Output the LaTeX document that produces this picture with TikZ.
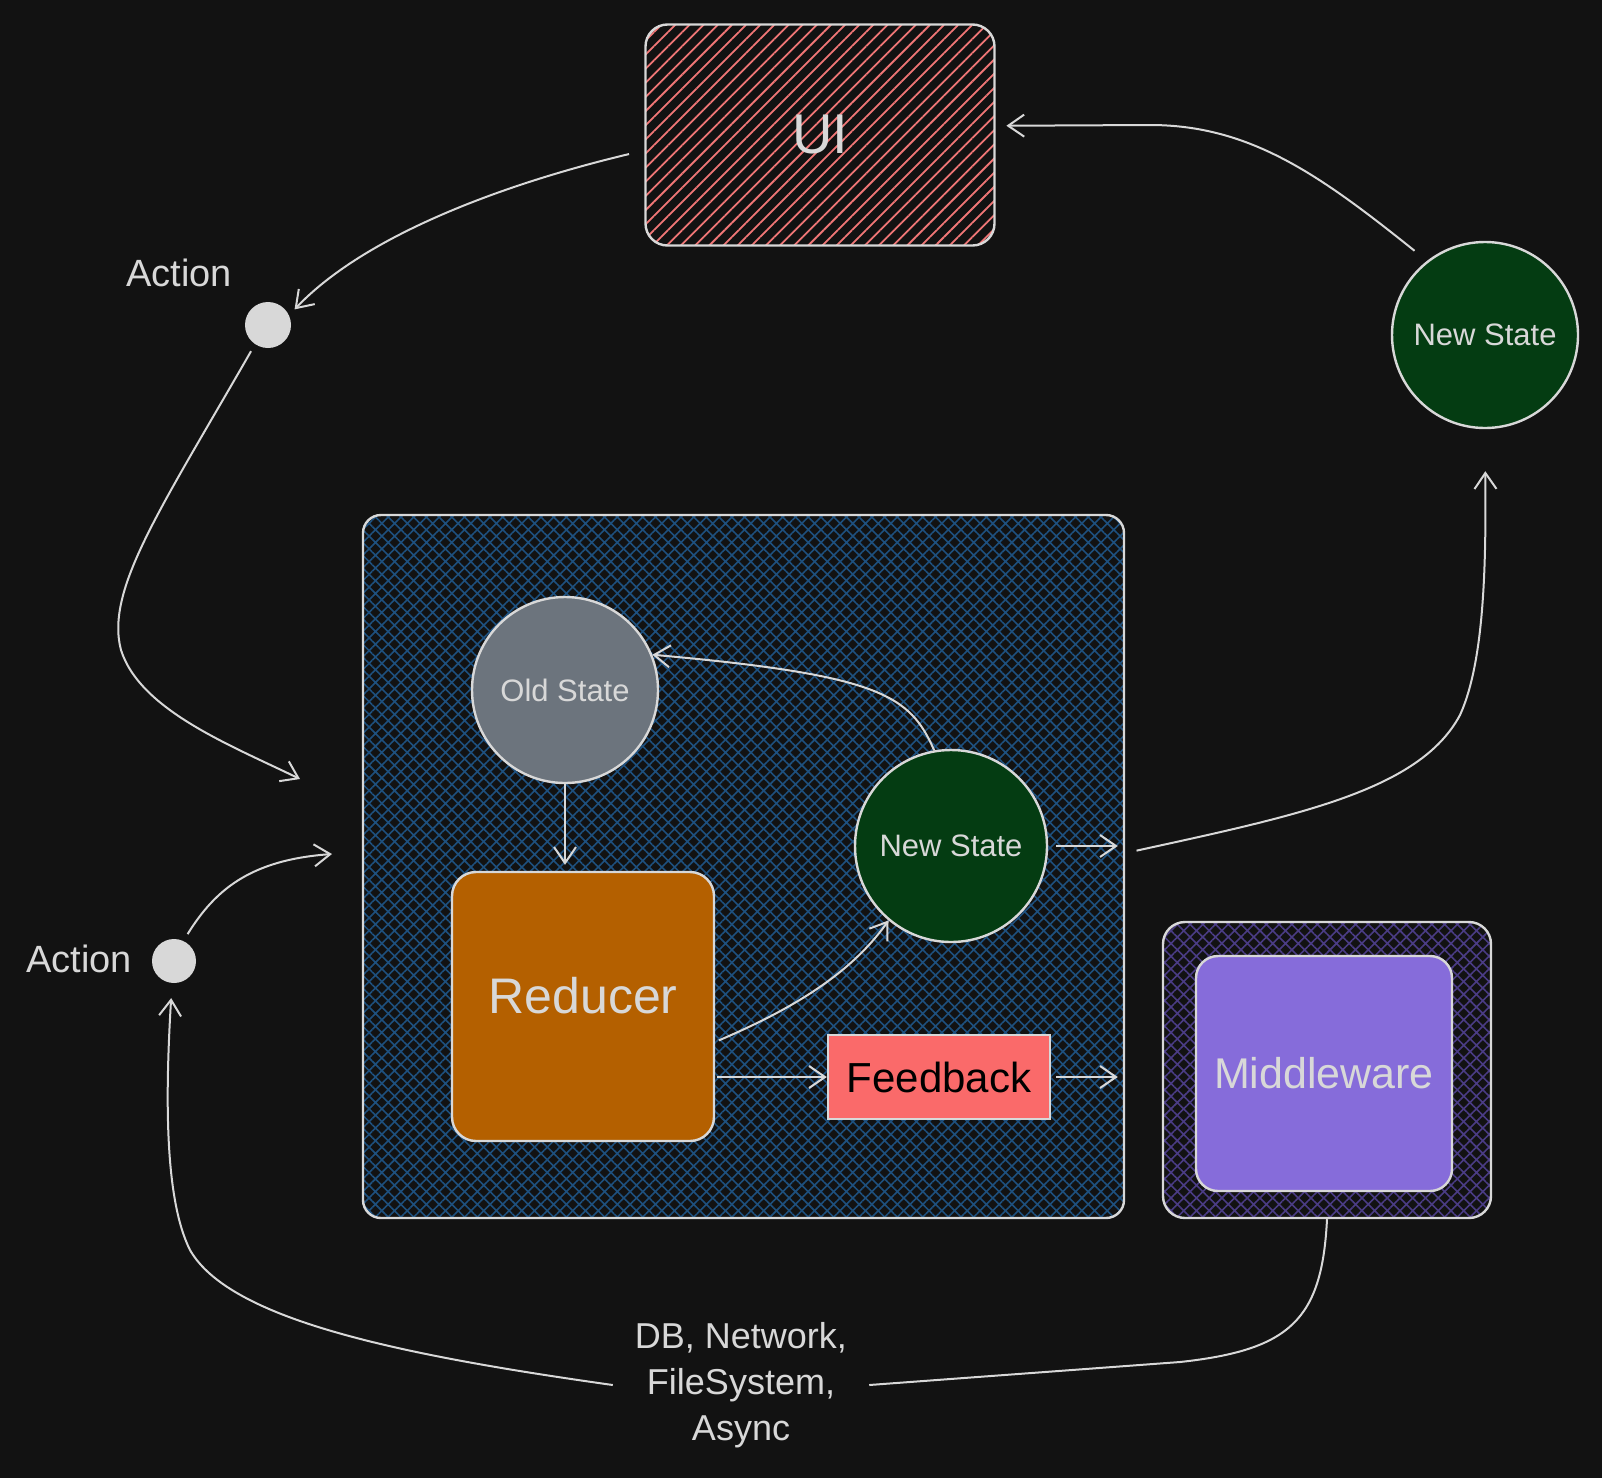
\documentclass[tikz,border=0pt]{standalone}
\usepackage{fontspec}
\setmainfont{Liberation Sans}
\usetikzlibrary{arrows.meta,patterns.meta}
\definecolor{bgc}{RGB}{18,18,18}
\definecolor{ink}{RGB}{216,216,216}
\definecolor{uihatch}{RGB}{240,118,118}
\definecolor{corehatch}{RGB}{30,80,126}
\definecolor{mwhatch}{RGB}{74,60,132}
\definecolor{oldfill}{RGB}{108,116,125}
\definecolor{newfill}{RGB}{4,60,18}
\definecolor{redfill}{RGB}{180,96,0}
\definecolor{fbfill}{RGB}{250,106,106}
\definecolor{mwfill}{RGB}{134,108,218}
\begin{document}
\begin{tikzpicture}[x=1pt,y=-1pt,
    every node/.style={inner sep=0pt,text=ink},
    panel/.style={draw=ink,line width=2.4pt,rounded corners=22pt},
    statecirc/.style={circle,draw=ink,line width=2.4pt,fill=newfill,font=\fontsize{31}{33}\selectfont},
    actdot/.style={circle,fill=ink,minimum size=46pt},
    actlabel/.style={font=\fontsize{38}{40}\selectfont},
    flow/.style={draw=ink,line width=2pt,-{Straight Barb[length=16pt,width=22pt]}},
    wire/.style={draw=ink,line width=2pt}]
    \fill [bgc] (0,0) rectangle (1602,1478);
    \useasboundingbox (0,0) rectangle (1602,1478);
    \node [panel,minimum width=349pt,minimum height=221pt,pattern={Lines[angle=45,distance=10pt,line width=1.8pt]},pattern color=uihatch,font=\fontsize{56}{60}\selectfont] (ui) at (820,135) {UI};
    \node [panel,rounded corners=18pt,minimum width=761pt,minimum height=703pt,pattern={Hatch[angle=45,distance=9pt,line width=1.6pt]},pattern color=corehatch] (core) at (743.5,866.5) {};
    \node [statecirc,fill=oldfill,minimum size=186pt] (old) at (565,690) {Old State};
    \node [statecirc,minimum size=192pt] (newin) at (951,846) {New State};
    \node [statecirc,minimum size=186pt] (newout) at (1485,335) {New State};
    \node [panel,rounded corners=24pt,fill=redfill,minimum width=262pt,minimum height=269pt] (reducer) at (583,1006.5) {};
    \node [font=\fontsize{50}{52}\selectfont] (reducertxt) at (583,996) {Reducer};
    \node [draw=ink,line width=2.4pt,fill=fbfill,minimum width=222pt,minimum height=84pt,text=black,font=\fontsize{42}{44}\selectfont] (feedback) at (939,1077) {Feedback};
    \node [panel,minimum width=328pt,minimum height=296pt,pattern={Hatch[angle=45,distance=9pt,line width=1.6pt]},pattern color=mwhatch] (mwout) at (1327,1070) {};
    \node [panel,fill=mwfill,minimum width=256pt,minimum height=235pt,font=\fontsize{43}{45}\selectfont] (mw) at (1324,1073.5) {Middleware};
    \node [actdot] (act1) at (268,325) {};
    \node [actlabel] (act1txt) at (179,273) {Action};
    \node [actdot,minimum size=44pt] (act2) at (174,961) {};
    \node [actlabel] (act2txt) at (79,959) {Action};
    \node [align=center,inner sep=22pt,font=\fontsize{36}{46}\selectfont] (io) at (741,1385) {DB, Network,\\FileSystem,\\Async};
    \coordinate (in1) at (300,779);
    \coordinate (in2) at (332,854);
    \draw [flow,shorten <=16pt,shorten >=8pt] (ui.185) .. controls (520,180) and (370,230) .. (act1.25);
    \draw [flow,shorten <=8pt] (act1.236) .. controls (160,510) and (105,590) .. (121,650) .. controls (140,710) and (230,745) .. (in1);
    \draw [flow,shorten <=8pt] (act2.65) .. controls (215,890) and (250,860) .. (in2);
    \draw [flow,shorten >=6pt] (old.south) -- (old.south |- reducer.north);
    \draw [flow] (newin.100) .. controls (910,695) and (880,675) .. (old.22);
    \draw [flow,shorten <=4pt] (reducer.-15) .. controls (790,1010) and (850,975) .. (newin.230);
    \draw [flow,shorten <=2pt] (reducer.east |- feedback.west) -- (feedback.west);
    \draw [flow,shorten <=8pt,shorten >=7pt] (newin.east) -- (newin.east -| core.east);
    \draw [flow,shorten <=5pt,shorten >=7pt] (feedback.east) -- (feedback.east -| core.east);
    \draw [flow,shorten <=12pt,shorten >=42pt] (core.2) .. controls (1300,815) and (1420,790) .. (1460,715) .. controls (1485,660) and (1486,560) .. (newout.south);
    \draw [flow,shorten <=16pt,shorten >=11pt] (newout.128) .. controls (1320,175) and (1250,125) .. (1150,125) -- (ui.3);
    \draw [wire] (mwout.south) .. controls (1322,1320) and (1290,1350) .. (1180,1362) -- (io.east);
    \draw [flow,shorten >=15pt] (io.west) .. controls (400,1355) and (230,1320) .. (190,1250) .. controls (165,1200) and (165,1100) .. (act2.265);
\end{tikzpicture}
\end{document}
